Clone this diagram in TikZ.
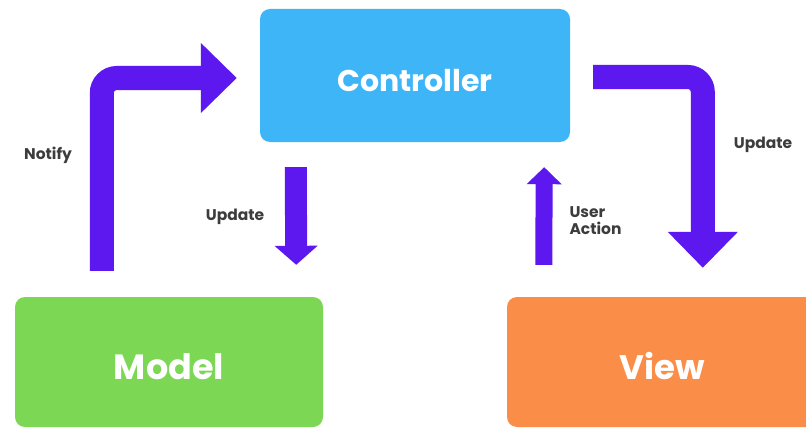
\documentclass[tikz,border=0pt]{standalone}
\usepackage{fontspec}
\setmainfont{Poppins}
\usetikzlibrary{arrows.meta}
\usetikzlibrary{positioning}
\definecolor{ctrlblue}{RGB}{61,181,247}
\definecolor{modelgreen}{RGB}{124,215,84}
\definecolor{vieworange}{RGB}{250,142,72}
\definecolor{flowpurple}{RGB}{92,24,238}
\definecolor{labelgray}{RGB}{60,60,60}

\begin{document}
\begin{tikzpicture}[x=1pt,y=-1pt,
    box/.style={rounded corners=10pt, text=white, inner sep=0pt},
    lbl/.style={text=labelgray, font=\bfseries\fontsize{15.5}{17}\selectfont, align=left},
    flow/.style={draw=flowpurple, line width=#1},
    bigflow/.style={flow=24pt, rounded corners=15pt, -{Triangle[width=68pt,length=36pt]}},
  ]
  \clip (0,0) rectangle (806,428);
  \fill[white] (0,0) rectangle (806,428);

  \node[box, fill=ctrlblue, minimum width=310pt, minimum height=133pt,
        text height=32pt, font=\bfseries\fontsize{30}{30}\selectfont] (controller) at (415,75.5) {Controller};
  \node[box, fill=modelgreen, minimum width=308pt, minimum height=130pt,
        text height=36pt, font=\bfseries\fontsize{35}{35}\selectfont] (model) at (169,362) {Model};
  \node[box, fill=vieworange, minimum width=310pt, minimum height=130pt,
        text height=36pt, font=\bfseries\fontsize{34}{34}\selectfont] (view) at (662,362) {View};

  \draw[bigflow] ([xshift=87pt,yshift=26pt]model.north west)
    |- ([xshift=-23pt,yshift=-2.5pt]controller.west);
  \draw[bigflow] ([xshift=23pt,yshift=-1.5pt]controller.east)
    -| ([xshift=196pt,yshift=29pt]view.north west);
  \draw[flow=22pt, -{Triangle[width=42pt,length=19pt]}]
    ([xshift=36pt,yshift=-25pt]controller.south west)
    -- ([xshift=-27pt,yshift=32pt]model.north east);
  \draw[flow=17pt, -{Triangle[width=34pt,length=17pt]}]
    ([xshift=37pt,yshift=32pt]view.north west)
    -- ([xshift=-26pt,yshift=-25pt]controller.south east);

  \node[lbl] (notify) at (48,155) {Notify};
  \node[lbl] (update1) at (235,217) {Update};
  \node[lbl, anchor=west] (action) at (566,221) {User\\Action};
  \node[lbl] (update2) at (763,145) {Update};
\end{tikzpicture}
\end{document}
